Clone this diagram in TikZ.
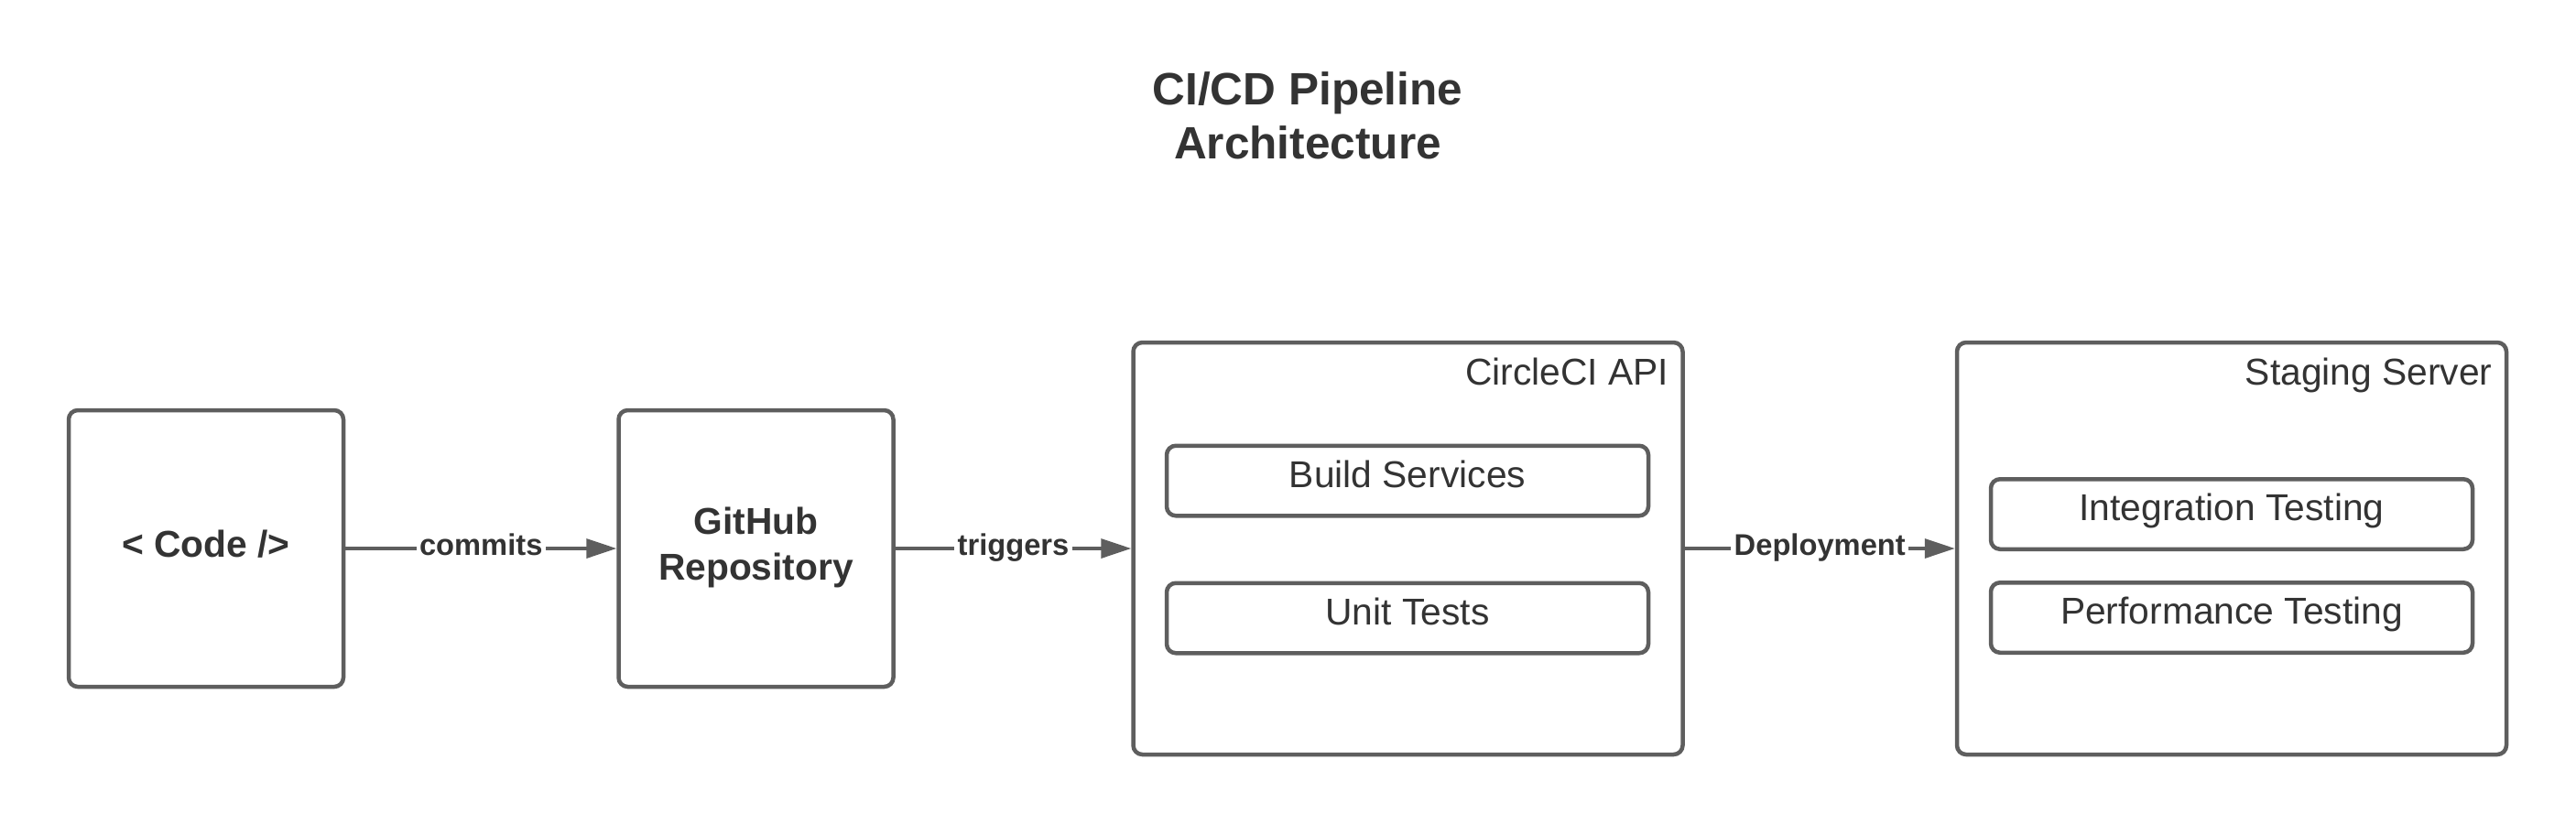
\documentclass[tikz,border=0pt]{standalone}
\usepackage{fontspec}
\setmainfont{Liberation Sans}
\usetikzlibrary{arrows.meta}
\definecolor{linegray}{RGB}{94,94,94}
\definecolor{inkgray}{RGB}{51,51,51}

\begin{document}
\begin{tikzpicture}[
	box/.style={draw=linegray, line width=0.045cm, rounded corners=0.1cm, inner sep=0pt, text=inkgray},
	stagebox/.style={box, minimum width=3.0cm, minimum height=3.02cm, align=center, text depth=0.3em, font=\bfseries\fontsize{11.6}{14.2}\selectfont},
	groupbox/.style={box, minimum width=6.0cm, minimum height=4.5cm},
	taskbox/.style={box, minimum width=5.26cm, minimum height=0.765cm, text height=0.72em, text depth=0.3em, font=\fontsize{11.6}{14}\selectfont},
	grouplabel/.style={anchor=base east, xshift=-0.17cm, yshift=-0.49cm, inner sep=0pt, text=inkgray, font=\fontsize{11.6}{14}\selectfont},
	flow/.style={draw=linegray, line width=0.035cm, -{Triangle[length=0.33cm,width=0.21cm]}},
	flowlabel/.style={fill=white, inner sep=1pt, anchor=base, yshift=-0.07cm, text=inkgray, font=\bfseries\fontsize{9.3}{11}\selectfont}
]
	\useasboundingbox (0,0) rectangle (28.13,-9);
	%title
		\node[text=inkgray, align=center, font=\bfseries\fontsize{14.1}{16.8}\selectfont] (title) at (14.28,-1.265) {CI/CD Pipeline\\Architecture};
	%code + repository
		\node[stagebox] (code) at (2.25,-5.99) {< Code />};
		\node[stagebox] (repo) at (8.255,-5.99) {GitHub\\Repository};
	%circleci
		\node[groupbox] (circleci) at (15.375,-5.99) {};
		\node[grouplabel] (circleci-title) at (circleci.north east) {CircleCI API};
		\node[taskbox] (build) at (15.37,-5.25) {Build Services};
		\node[taskbox] (unit) at (15.37,-6.75) {Unit Tests};
	%staging server
		\node[groupbox] (staging) at (24.37,-5.99) {};
		\node[grouplabel] (staging-title) at (staging.north east) {Staging Server};
		\node[taskbox] (integration) at (24.37,-5.615) {Integration Testing};
		\node[taskbox] (performance) at (24.37,-6.745) {Performance Testing};
	%arrows + labels
		\draw[flow] (code) -- node[flowlabel] (commits) {commits} (repo);
		\draw[flow] (repo) -- node[flowlabel] (triggers) {triggers} (circleci);
		\draw[flow] (circleci) -- node[flowlabel] (deploy) {Deployment} (staging);
\end{tikzpicture}
\end{document}
